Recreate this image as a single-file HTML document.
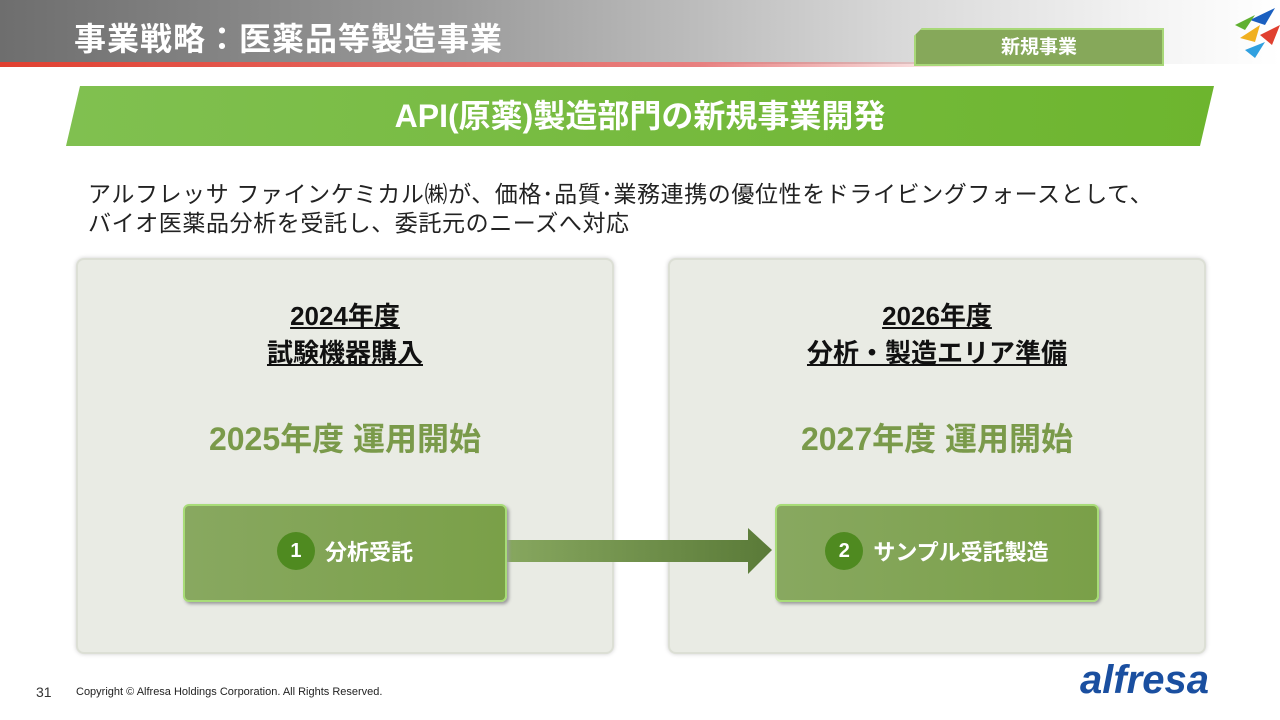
<!DOCTYPE html>
<html><head><meta charset="utf-8"><style>
body{margin:0;width:1280px;height:720px;position:relative;background:#fff;font-family:"Liberation Sans","Noto Sans CJK JP",sans-serif;overflow:hidden}
.a{position:absolute}
.hdr{left:0;top:0;width:1280px;height:64px;background:linear-gradient(90deg,#6e6e6e 0%,#9a9a9a 35%,#d8d8d8 70%,#f4f4f4 90%,#fff 100%)}
.red{left:0;top:62px;width:1000px;height:5px;background:linear-gradient(90deg,#e04030,#e88080 70%,rgba(255,255,255,0))}
.title{left:74px;top:14px;font-size:32px;font-weight:bold;color:#fff;letter-spacing:1px}
.tag{left:914px;top:28px;width:246px;height:34px;background:#86a85a;border:2px solid #a8d878;clip-path:polygon(8px 0,100% 0,100% 100%,0 100%,0 8px);color:#fff;font-weight:bold;font-size:19px;text-align:center;line-height:36px}
.band{left:66px;top:86px;width:1148px;height:60px;background:linear-gradient(90deg,#80c050,#6db52e);clip-path:polygon(14px 0,100% 0,calc(100% - 14px) 100%,0 100%);color:#fff;font-weight:bold;font-size:32px;text-align:center;line-height:60px}
.desc{left:88px;top:180px;font-size:23px;letter-spacing:0.6px;color:#222;line-height:29px;white-space:nowrap}
.panel{top:258px;width:534px;height:392px;background:#e9ebe4;border:2px solid #dcdfd5;border-radius:8px;box-shadow:0 0 4px #ccc}
.h{width:100%;text-align:center;font-weight:bold;font-size:26px;color:#111;line-height:37px}
.h span{text-decoration:underline}
.g{width:100%;text-align:center;font-weight:bold;font-size:32px;color:#7a9a4a}
.box{top:504px;height:94px;background:linear-gradient(90deg,#88a860,#7aa048);border:2px solid #a8dc78;border-radius:6px;box-shadow:2px 2px 3px #999;color:#fff;font-weight:bold;font-size:22px;line-height:94px;text-align:center}
.c{display:inline-block;width:38px;height:38px;border-radius:50%;background:#4f8a20;line-height:38px;font-size:20px;vertical-align:middle;margin-right:10px;position:relative;top:-3px}
</style></head><body>
<div class="a hdr"></div><div class="a red"></div>
<div class="a title">事業戦略：医薬品等製造事業</div>
<svg class="a" style="left:1180px;top:0" width="100" height="66"><path d="M70 20 L95 8 L85 25Z" fill="#1a5fc0"/><path d="M55 25 L75 15 L65 30Z" fill="#60b030"/><path d="M60 38 L80 25 L75 42Z" fill="#f0b020"/><path d="M80 35 L100 25 L92 45Z" fill="#e04030"/><path d="M65 50 L85 42 L75 58Z" fill="#30a0e0"/></svg>
<div class="a tag">新規事業</div>
<div class="a band">API(原薬)製造部門の新規事業開発</div>
<div class="a desc">アルフレッサ ファインケミカル㈱が、価格･品質･業務連携の優位性をドライビングフォースとして、<br>バイオ医薬品分析を受託し、委託元のニーズへ対応</div>
<div class="a panel" style="left:76px"><div class="a h" style="top:38px"><span>2024年度</span><br><span>試験機器購入</span></div><div class="a g" style="top:154px">2025年度 運用開始</div></div>
<div class="a panel" style="left:668px"><div class="a h" style="top:38px"><span>2026年度</span><br><span>分析・製造エリア準備</span></div><div class="a g" style="top:154px">2027年度 運用開始</div></div>
<svg class="a" style="left:500px;top:528px" width="280" height="48"><defs><linearGradient id="ar" x1="0" x2="1"><stop offset="0" stop-color="#88a860"/><stop offset="1" stop-color="#5a7a38"/></linearGradient></defs><path d="M0 12 H248 V0 L272 22 L248 46 V34 H0Z" fill="url(#ar)"/></svg>
<div class="a box" style="left:183px;width:320px"><span class="c">1</span>分析受託</div>
<div class="a box" style="left:775px;width:320px"><span class="c">2</span>サンプル受託製造</div>
<div class="a" style="left:36px;top:684px;font-size:14px;color:#333">31</div>
<div class="a" style="left:76px;top:686px;font-size:11px;color:#222">Copyright © Alfresa Holdings Corporation. All Rights Reserved.</div>
<div class="a" style="left:1080px;top:658px;font-size:40px;font-weight:bold;font-style:italic;color:#1a4fa0">alfresa</div>
</body></html>
